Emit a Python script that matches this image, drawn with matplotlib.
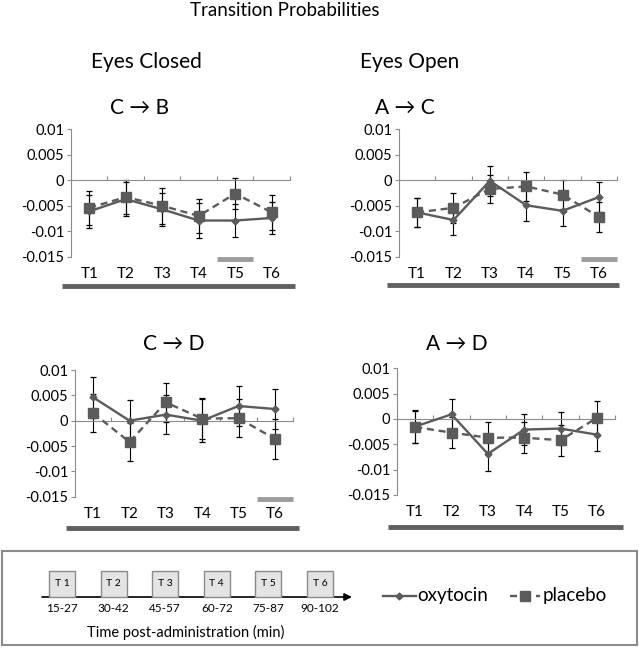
#!/usr/bin/env python3
import numpy as np
import matplotlib
matplotlib.use('Agg')
import matplotlib.pyplot as plt
from matplotlib.patches import Rectangle
from matplotlib.lines import Line2D

plt.rcParams['font.family'] = ['Lato', 'DejaVu Sans']

# data
periods = ['T1', 'T2', 'T3', 'T4', 'T5', 'T6']
period_boxes = ['T 1', 'T 2', 'T 3', 'T 4', 'T 5', 'T 6']
period_minutes = ['15-27', '30-42', '45-57', '60-72', '75-87', '90-102']
y_ticks = [0.01, 0.005, 0, -0.005, -0.01, -0.015]
y_tick_labels = ['0.01', '0.005', '0', '-0.005', '-0.01', '-0.015']

# Eyes closed, C -> B
cb_oxy = [-0.0061, -0.0037, -0.0057, -0.0079, -0.0079, -0.0074]
cb_oxy_err = [0.0033, 0.0033, 0.0033, 0.0034, 0.0033, 0.0031]
cb_pla = [-0.0054, -0.0033, -0.0050, -0.0070, -0.0026, -0.0063]
cb_pla_err = [0.0033, 0.0033, 0.0035, 0.0033, 0.0031, 0.0035]

# Eyes open, A -> C
ac_oxy = [-0.0063, -0.0078, -0.0001, -0.0049, -0.0060, -0.0033]
ac_oxy_err = [0.0029, 0.0029, 0.0030, 0.0030, 0.0030, 0.0029]
ac_pla = [-0.0063, -0.0054, -0.0017, -0.0012, -0.0028, -0.0072]
ac_pla_err = [0.0029, 0.0030, 0.0028, 0.0028, 0.0028, 0.0029]

# Eyes closed, C -> D
cd_oxy = [0.0046, 0.0000, 0.0012, 0.0000, 0.0029, 0.0023]
cd_oxy_err = [0.0041, 0.0041, 0.0039, 0.0043, 0.0040, 0.0040]
cd_pla = [0.0015, -0.0042, 0.0036, 0.0004, 0.0005, -0.0036]
cd_pla_err = [0.0038, 0.0038, 0.0039, 0.0040, 0.0038, 0.0039]

# Eyes open, A -> D
ad_oxy = [-0.0015, 0.0009, -0.0069, -0.0021, -0.0019, -0.0031]
ad_oxy_err = [0.0032, 0.0031, 0.0033, 0.0031, 0.0032, 0.0033]
ad_pla = [-0.0016, -0.0027, -0.0037, -0.0037, -0.0042, 0.0002]
ad_pla_err = [0.0032, 0.0031, 0.0031, 0.0031, 0.0031, 0.0033]

LINE = '#5b5b5b'
AXIS = '#8c8c8c'
DARK_BAR = '#606060'
LIGHT_BAR = '#9c9c9c'
W, H = 639, 648


def draw_panel(fig, rect, oxy, oxy_err, pla, pla_err, dark_bar, sig=None):
    ax = fig.add_axes(rect)
    x = np.arange(len(periods))
    ax.errorbar(x, oxy, yerr=oxy_err, fmt='none', ecolor='black',
                elinewidth=0.8, capsize=2, capthick=0.9, zorder=2)
    ax.errorbar(x, pla, yerr=pla_err, fmt='none', ecolor='black',
                elinewidth=0.8, capsize=2, capthick=0.9, zorder=2)
    ax.plot(x, oxy, '-', color=LINE, lw=1.7, marker='D', ms=3.5, zorder=3)
    ax.plot(x, pla, '--', color=LINE, lw=1.7, marker='s', ms=6.5,
            dashes=(3, 2), zorder=3)
    ax.set_xlim(-0.5, 5.5)
    ax.set_ylim(-0.015, 0.01)
    for s in ['top', 'right']:
        ax.spines[s].set_visible(False)
    ax.spines['bottom'].set_position(('data', 0))
    ax.spines['bottom'].set_color(AXIS)
    ax.spines['left'].set_color(AXIS)
    ax.set_xticks(np.arange(-0.5, 6, 1))
    ax.set_xticklabels([])
    ax.tick_params(axis='x', direction='in', length=3, color=AXIS)
    ax.set_yticks(y_ticks)
    ax.set_yticklabels(y_tick_labels)
    ax.tick_params(axis='y', direction='out', length=3, color=AXIS,
                   labelsize=10.5, pad=2)
    for i, lab in enumerate(periods):
        ax.text(i, -0.135, lab, transform=ax.get_xaxis_transform(),
                ha='center', va='center', fontsize=11)
    x0, x1, yb = dark_bar
    ax.plot([x0, x1], [yb, yb], transform=ax.transAxes, clip_on=False,
            color=DARK_BAR, lw=3.5, solid_capstyle='butt')
    if sig is not None:
        ax.plot([sig - 0.5, sig + 0.5], [-0.02, -0.02],
                transform=ax.get_xaxis_transform(), clip_on=False,
                color=LIGHT_BAR, lw=3.5, solid_capstyle='butt')
    return ax


def main():
    fig = plt.figure(figsize=(W / 100, H / 100), dpi=100)
    ov = fig.add_axes([0, 0, 1, 1])
    ov.set_xlim(0, W)
    ov.set_ylim(H, 0)
    ov.axis('off')

    draw_panel(fig, [0.1111, 0.6039, 0.3427, 0.1964],
               cb_oxy, cb_oxy_err, cb_pla, cb_pla_err,
               (-0.041, 1.023, -0.227), sig=4)
    draw_panel(fig, [0.6244, 0.6039, 0.3412, 0.1964],
               ac_oxy, ac_oxy_err, ac_pla, ac_pla_err,
               (-0.055, 1.009, -0.222), sig=5)
    draw_panel(fig, [0.1174, 0.2335, 0.3412, 0.1955],
               cd_oxy, cd_oxy_err, cd_pla, cd_pla_err,
               (-0.041, 1.028, -0.246), sig=5)
    draw_panel(fig, [0.6213, 0.2362, 0.3412, 0.1955],
               ad_oxy, ad_oxy_err, ad_pla, ad_pla_err,
               (-0.041, 1.037, -0.253))

    # titles
    ov.text(285, 11, 'Transition Probabilities', ha='center', va='center',
            fontsize=13.5)
    ov.text(146, 62, 'Eyes Closed', ha='center', va='center', fontsize=15)
    ov.text(410, 62, 'Eyes Open', ha='center', va='center', fontsize=15)
    ov.text(139, 108, 'C \u2192 B', ha='center', va='center', fontsize=15)
    ov.text(405, 108, 'A \u2192 C', ha='center', va='center', fontsize=15)
    ov.text(174, 344, 'C \u2192 D', ha='center', va='center', fontsize=15)
    ov.text(457, 344, 'A \u2192 D', ha='center', va='center', fontsize=15)

    # bottom key box
    ov.add_patch(Rectangle((2, 551), 635, 94, fill=False, edgecolor=AXIS,
                           lw=1.5))
    ov.annotate('', xy=(352, 597), xytext=(42, 597),
                arrowprops=dict(arrowstyle='-|>', color='black', lw=1.2,
                                mutation_scale=11, shrinkA=0, shrinkB=0))
    for i, (bl, mn) in enumerate(zip(period_boxes, period_minutes)):
        cx = 62 + 51.6 * i
        ov.add_patch(Rectangle((cx - 13, 571), 26, 26, facecolor='#e4e4e4',
                               edgecolor='#8a8a8a', lw=1, zorder=3))
        ov.text(cx, 584, bl, ha='center', va='center', fontsize=7.5,
                zorder=4)
        ov.text(cx, 609, mn, ha='center', va='center', fontsize=8.5)
    ov.text(186, 632, 'Time post-administration (min)', ha='center',
            va='center', fontsize=10.5)

    # legend
    ov.add_line(Line2D([383, 416], [596, 596], color=LINE, lw=1.7))
    ov.add_line(Line2D([399], [596], color=LINE, marker='D', ms=3.5))
    ov.text(417, 596, 'oxytocin', ha='left', va='center', fontsize=13.5)
    ov.add_line(Line2D([510, 540], [596, 596], color=LINE, lw=1.7,
                       ls='--', dashes=(3, 2.5)))
    ov.add_line(Line2D([525], [596], color=LINE, marker='s', ms=6.5))
    ov.text(543, 596, 'placebo', ha='left', va='center', fontsize=13.5)

    fig.savefig('out.png', dpi=100)


if __name__ == '__main__':
    main()
